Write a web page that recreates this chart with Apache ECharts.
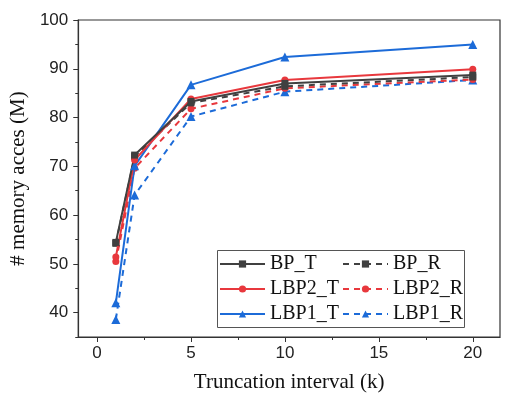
<!DOCTYPE html>
<html><head><meta charset="utf-8">
<script src="https://cdn.jsdelivr.net/npm/echarts@6/dist/echarts.min.js"></script>
<style>html,body{margin:0;padding:0;background:#fff}#c{width:508px;height:399px}</style>
</head><body><div id="c"></div>
<script>
const xValues = [1, 2, 5, 10, 20];
const BP_T   = [54.4, 72.3, 83.3, 87.0, 88.7];
const BP_R   = [54.2, 72.0, 83.0, 86.4, 88.3];
const LBP2_T = [51.4, 71.3, 83.8, 87.7, 89.9];
const LBP2_R = [50.5, 69.6, 81.8, 86.0, 87.8];
const LBP1_T = [42.0, 70.1, 86.7, 92.4, 95.0];
const LBP1_R = [38.6, 64.1, 80.2, 85.3, 87.7];
const xTicks = [0, 5, 10, 15, 20];
const xMinorTicks = [2.5, 7.5, 12.5, 17.5];
const yTicks = [40, 50, 60, 70, 80, 90, 100];
const yMinorTicks = [35, 45, 55, 65, 75, 85, 95];

const BLACK = '#404040', RED = '#e8383d', BLUE = '#1c6bd8';
function pairs(v){ return xValues.map((x,i)=>[x, v[i]]); }
function s(name, data, color, dashed, symbol, size){
  return {name, type:'line', data:pairs(data), symbol, symbolSize:size,
    lineStyle:{color, width:2, type: dashed ? [6,5] : 'solid'},
    itemStyle:{color}, z: dashed ? 2 : 3};
}
const series = [
  s('LBP1_R', LBP1_R, BLUE, true, 'triangle', 9),
  s('LBP2_R', LBP2_R, RED, true, 'circle', 7),
  s('BP_R', BP_R, BLACK, true, 'rect', 7),
  s('LBP1_T', LBP1_T, BLUE, false, 'triangle', 9),
  s('LBP2_T', LBP2_T, RED, false, 'circle', 7),
  s('BP_T', BP_T, BLACK, false, 'rect', 7),
];
const legendText = {fontFamily:'Liberation Serif', fontSize:20, color:'#111', lineHeight:20};
const axCol = '#333';
const chart = echarts.init(document.getElementById('c'));
chart.setOption({
  animation:false,
  grid:{left:77, right:8, top:20, bottom:62, show:true, borderColor:axCol, borderWidth:1.2},
  xAxis:[{type:'value', min:-1, max:21.45,
    name:'Truncation interval (k)', nameLocation:'middle', nameGap:35,
    nameTextStyle:{fontFamily:'Liberation Serif', fontSize:21, color:'#111'},
    axisLine:{onZero:false, lineStyle:{color:axCol, width:1.2}},
    axisTick:{inside:false, length:5, lineStyle:{color:axCol}, customValues: xTicks},
    axisLabel:{fontFamily:'Liberation Sans', fontSize:17, color:'#222', margin:8, customValues: xTicks},
    splitLine:{show:false}},
   {type:'value', min:-1, max:21.45, position:'bottom',
    axisLine:{show:false, onZero:false},
    axisTick:{inside:false, length:3, lineStyle:{color:axCol}, customValues: xMinorTicks},
    axisLabel:{show:false}, splitLine:{show:false}}],
  yAxis:[{type:'value', min:35, max:100,
    name:'# memory acces (M)', nameLocation:'middle', nameGap:49,
    nameTextStyle:{fontFamily:'Liberation Serif', fontSize:21, color:'#111'},
    axisLine:{show:true, onZero:false, lineStyle:{color:axCol, width:1.2}},
    axisTick:{inside:false, length:5, lineStyle:{color:axCol}, customValues: yTicks},
    axisLabel:{fontFamily:'Liberation Sans', fontSize:17, color:'#222', margin:10, customValues: yTicks},
    splitLine:{show:false}},
   {type:'value', min:35, max:100, position:'left',
    axisLine:{show:false, onZero:false},
    axisTick:{inside:false, length:3, lineStyle:{color:axCol}, customValues: yMinorTicks},
    axisLabel:{show:false}, splitLine:{show:false}}],
  legend:[
    {orient:'vertical', left:219, top:254, itemWidth:45, itemHeight:9, itemGap:5,
     data:['BP_T','LBP2_T','LBP1_T'], textStyle:legendText, padding:0},
    {orient:'vertical', left:342, top:254, itemWidth:45, itemHeight:9, itemGap:5,
     data:['BP_R','LBP2_R','LBP1_R'], textStyle:legendText, padding:0}
  ],
  graphic:[{type:'rect', shape:{x:217.5, y:250.5, width:247, height:77},
    style:{fill:null, stroke:'#555', lineWidth:1}, z:100}],
  series
});
</script></body></html>
